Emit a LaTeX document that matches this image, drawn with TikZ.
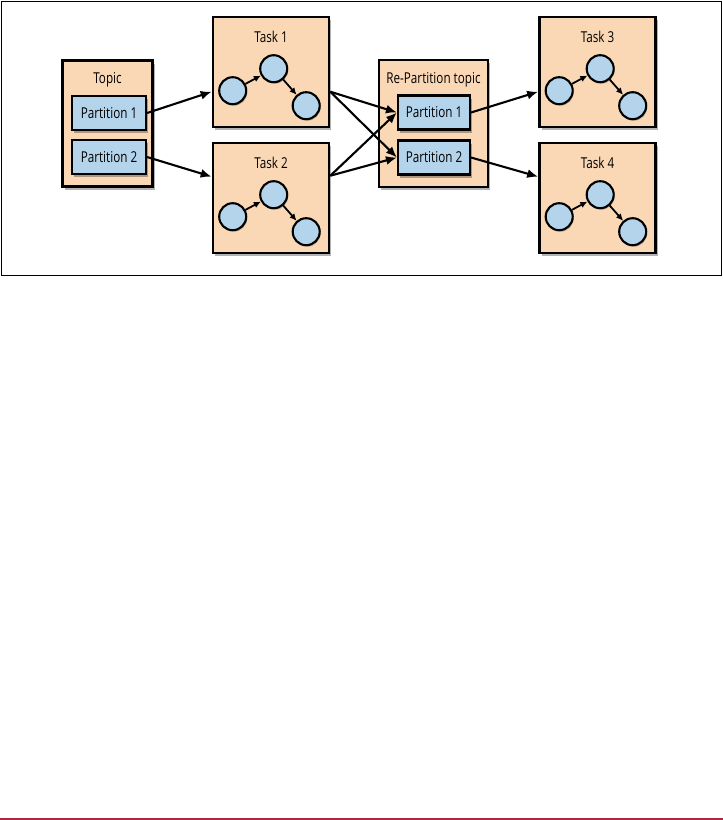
\documentclass[tikz,border=0pt]{standalone}
\usepackage{fontspec}
\setmainfont[FakeStretch=0.78]{Open Sans}
\usetikzlibrary{arrows.meta,shadows,calc}
\definecolor{peach}{HTML}{FBD8B5}
\definecolor{lblue}{HTML}{B4D4EB}
\definecolor{redline}{HTML}{B0263A}
\begin{document}
\begin{tikzpicture}[x=1pt,y=-1pt,
  shd/.style={drop shadow={shadow xshift=2pt,shadow yshift=-3pt,opacity=0.3,fill=black}},
  box/.style={draw=black,line width=2.6pt,fill=peach,shd,inner sep=0pt},
  part/.style={draw=black,line width=2.1pt,fill=lblue,shd,inner sep=0pt,
    minimum height=34pt,font=\fontsize{15}{17}\selectfont},
  lbl/.style={font=\fontsize{15}{17}\selectfont,inner sep=0pt},
  circ/.style={circle,draw=black,line width=2.1pt,fill=lblue,minimum size=27pt,inner sep=0pt,
    drop shadow={shadow xshift=1pt,shadow yshift=-1.5pt,opacity=0.25,fill=black}},
  arr/.style={line width=2.1pt,-{Latex[length=11pt,width=9pt]}},
  sarr/.style={line width=1.8pt,-{Latex[length=7pt,width=6.5pt]}},
  taskbox/.style={box,minimum width=116pt,minimum height=110pt}
]
\useasboundingbox (0,0) rectangle (723,820);
\node[draw=black,line width=1.6pt,minimum width=720pt,minimum height=274pt,inner sep=0pt] (frame) at (361.5,138.5) {};
\draw[redline,line width=1.8pt] (0,819) coordinate (rl1) -- (723,819) coordinate (rl2);

% Topic
\node[box,minimum width=90pt,minimum height=126pt] (topic) at (107.5,123.5) {};
\node[lbl] (topiclbl) at (107.5,80) {Topic};
\node[part,minimum width=74pt] (tp1) at (109,113) {Partition 1};
\node[part,minimum width=74pt] (tp2) at (109,157) {Partition 2};

% Re-partition
\node[box,minimum width=109pt,minimum height=127pt] (rp) at (433.5,123.5) {};
\node[lbl] (rplbl) at (433.5,80) {Re-Partition topic};
\node[part,minimum width=72pt] (rp1) at (434,112.5) {Partition 1};
\node[part,minimum width=72pt] (rp2) at (434,157.5) {Partition 2};

% Tasks
\foreach \n/\cx/\cy/\t in {t1/271/72/Task 1, t2/271/198/Task 2, t3/597.5/72/Task 3, t4/597.5/198/Task 4}{
  \node[taskbox] (\n) at (\cx,\cy) {};
  \node[lbl] (\n lbl) at ($(\n.north)+(0,21)$) {\t};
  \node[circ] (\n a) at ($(\n.north west)+(21,75)$) {};
  \node[circ] (\n b) at ($(\n.north west)+(62,53)$) {};
  \node[circ] (\n c) at ($(\n.north west)+(94.5,90)$) {};
  \draw[sarr] (\n a) -- (\n b);
  \draw[sarr] (\n b) -- (\n c);
}

% connectors
\draw[arr] (tp1.east) -- ($(t1.north west)+(0,76)$);
\draw[arr] (tp2.east) -- ($(t2.north west)+(0,35)$);
\coordinate (t1out) at ($(t1.north east)+(0,76)$);
\coordinate (t2out) at ($(t2.north east)+(0,34)$);
\draw[arr] (t1out) -- (rp1.west);
\draw[arr] (t1out) -- (rp2.west);
\draw[arr] (t2out) -- (rp1.west);
\draw[arr] (t2out) -- (rp2.west);
\draw[arr] (rp1.east) -- ($(t3.north west)+(0,76)$);
\draw[arr] (rp2.east) -- ($(t4.north west)+(0,35)$);
\end{tikzpicture}
\end{document}
